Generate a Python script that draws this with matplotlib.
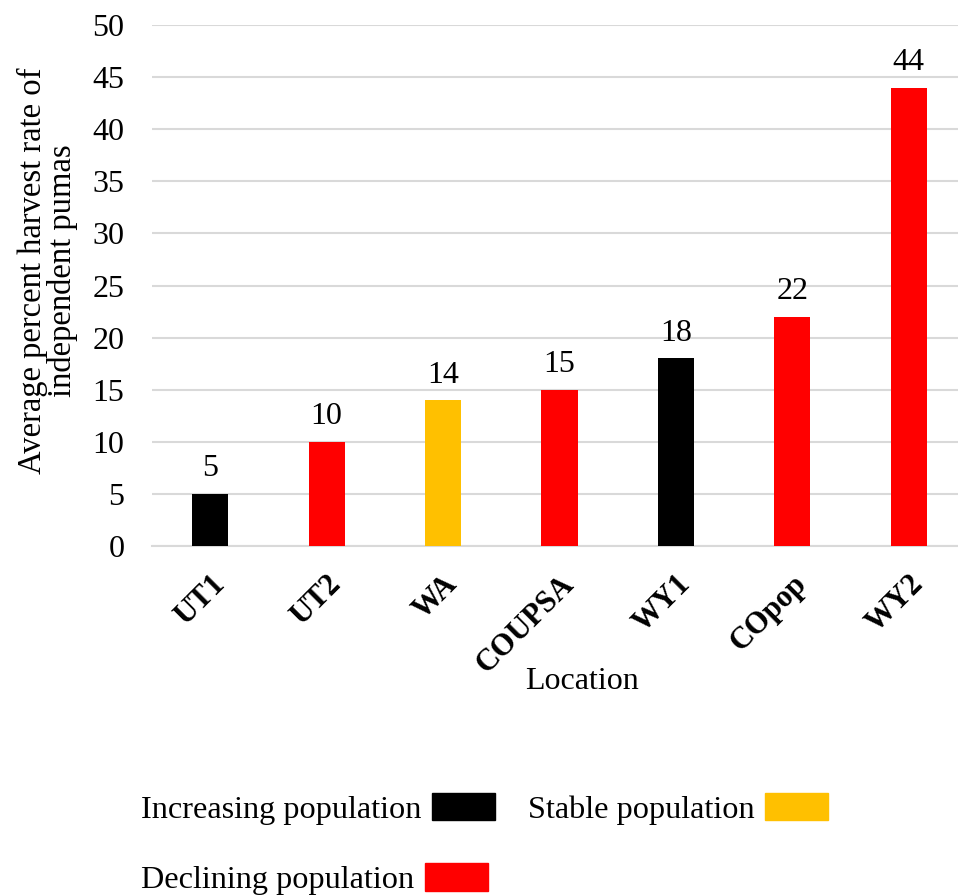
import matplotlib
matplotlib.use("Agg")
import matplotlib.pyplot as plt
from matplotlib.patches import Patch

locations = ['UT1', 'UT2', 'WA', 'COUPSA', 'WY1', 'COpop', 'WY2']
harvest_rate = [5, 10, 14, 15, 18, 22, 44]
trend = ['Increasing', 'Declining', 'Stable', 'Declining', 'Increasing', 'Declining', 'Declining']
trend_colors = {'Increasing': '#000000', 'Stable': '#FFC000', 'Declining': '#FF0000'}

plt.rcParams['font.family'] = ['Liberation Serif', 'DejaVu Serif']

fig = plt.figure(figsize=(9.58, 8.96), dpi=100)
# the plot area runs a little past the right edge of the picture
ax = fig.add_axes([0.1587, 0.3906, 0.8507, 0.5815])

x = list(range(len(locations)))
ax.bar(x, harvest_rate, width=0.31, color=[trend_colors[t] for t in trend], zorder=3)
for xi, v in zip(x, harvest_rate):
    ax.text(xi, v + 1.0, str(v), ha='center', va='bottom', fontsize=23)

ax.set_xlim(-0.5, len(locations) - 0.5)
ax.set_ylim(0, 50)
ax.set_yticks(range(0, 51, 5))
ax.tick_params(axis='y', labelsize=23, length=0, pad=20)
ax.tick_params(axis='x', length=0, pad=17)
ax.set_xticks(x)
ax.set_xticklabels(locations, rotation=45, ha='right', rotation_mode='anchor',
                   fontsize=22, fontweight='bold')
ax.grid(axis='y', color='#d9d9d9', linewidth=1.5, zorder=0)
for s in ['top', 'right', 'left']:
    ax.spines[s].set_visible(False)
ax.spines['bottom'].set_color('#d9d9d9')
ax.spines['bottom'].set_linewidth(1.5)

ax.set_ylabel('Average percent harvest rate of\nindependent pumas', fontsize=23.5, linespacing=0.95)
ax.yaxis.set_label_coords(-0.0908, 0.528)
ax.set_xlabel('Location', fontsize=23)
ax.xaxis.set_label_coords((582 - 152) / 815, -0.232)

leg_kw = dict(frameon=False, fontsize=23.2, markerfirst=False, handlelength=1.95,
              handleheight=0.94, handletextpad=0.35, columnspacing=1.0, borderpad=0,
              borderaxespad=0, loc='center left')
h_inc = Patch(color=trend_colors['Increasing'], label='Increasing population')
h_sta = Patch(color=trend_colors['Stable'], label='Stable population')
h_dec = Patch(color=trend_colors['Declining'], label='Declining population')
fig.legend(handles=[h_inc, h_sta], ncol=2, bbox_to_anchor=(0.147, 0.0975), **leg_kw)
fig.legend(handles=[h_dec], ncol=1, bbox_to_anchor=(0.147, 0.019), **leg_kw)

fig.savefig('out.png', dpi=100)
